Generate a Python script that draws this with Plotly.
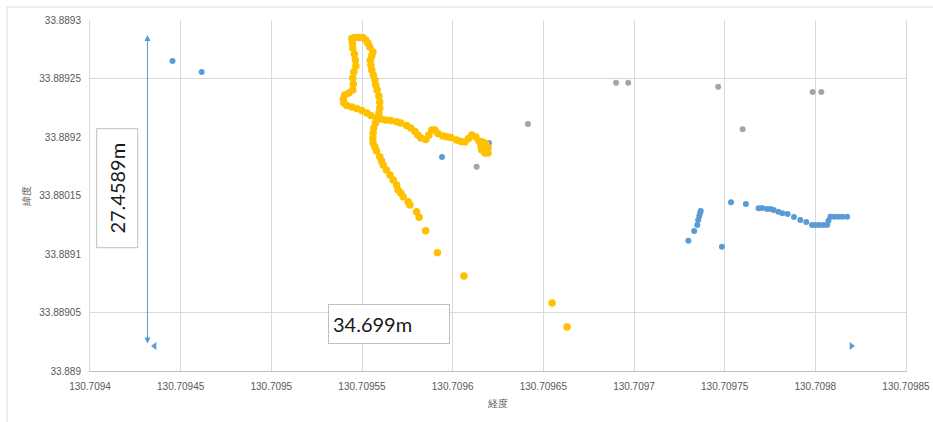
import plotly.graph_objects as go

# ---- data (longitude / latitude) ----
blue_lon = [130.7094455, 130.7094616, 130.7095941, 130.7096200,
            130.7097300, 130.7097332, 130.7097349, 130.7097354, 130.7097360, 130.7097365, 130.7097368,
            130.7097485, 130.7097535, 130.7097617, 130.7097687, 130.7097707, 130.7097733, 130.7097752,
            130.7097770, 130.7097796, 130.7097818, 130.7097847, 130.7097882, 130.7097917, 130.7097950,
            130.7097982, 130.7098000, 130.7098022, 130.7098044, 130.7098065, 130.7098072, 130.7098083,
            130.7098105, 130.7098127, 130.7098149, 130.7098175]
blue_lat = [33.8892650, 33.8892556, 33.8891829, 33.8891949,
            33.8891114, 33.8891197, 33.8891248, 33.8891291, 33.8891325, 33.8891350, 33.8891368,
            33.8891062, 33.8891442, 33.8891427, 33.8891391, 33.8891393, 33.8891385, 33.8891385,
            33.8891376, 33.8891362, 33.8891348, 33.8891342, 33.8891316, 33.8891291, 33.8891273,
            33.8891248, 33.8891248, 33.8891248, 33.8891248, 33.8891248, 33.8891285, 33.8891319,
            33.8891319, 33.8891319, 33.8891319, 33.8891319]

yellow_lon = [130.7096631, 130.7096548, 130.7096062, 130.7095916, 130.7095851, 130.7095815, 130.7095801,
              130.7095764, 130.7095755, 130.7095727, 130.7095714, 130.7095699, 130.7095691, 130.7095672,
              130.7095654, 130.7095635, 130.7095617, 130.7095608, 130.7095598, 130.7095580, 130.7095571,
              130.7095561, 130.7095560, 130.7095561, 130.7095565, 130.7095574, 130.7095579, 130.7095593,
              130.7095598, 130.7095598, 130.7095593, 130.7095583, 130.7095576, 130.7095571, 130.7095562,
              130.7095554, 130.7095549, 130.7095546, 130.7095554, 130.7095560, 130.7095543, 130.7095532,
              130.7095521, 130.7095504, 130.7095482, 130.7095460, 130.7095444, 130.7095447, 130.7095449,
              130.7095458, 130.7095463, 130.7095466, 130.7095455, 130.7095449, 130.7095452, 130.7095449,
              130.7095427, 130.7095405, 130.7095397, 130.7095400, 130.7095416, 130.7095444, 130.7095471,
              130.7095499, 130.7095527, 130.7095549, 130.7095604, 130.7095631, 130.7095659, 130.7095691,
              130.7095714, 130.7095746, 130.7095769, 130.7095792, 130.7095808, 130.7095825, 130.7095852,
              130.7095869, 130.7095885, 130.7095902, 130.7095919, 130.7095946, 130.7095968, 130.7095990,
              130.7096022, 130.7096046, 130.7096068, 130.7096087, 130.7096106, 130.7096128, 130.7096145,
              130.7096156, 130.7096161, 130.7096178, 130.7096195, 130.7096195, 130.7096184, 130.7096167,
              130.7096175]
yellow_lat = [33.8890376, 33.8890581, 33.8890812, 33.8891011, 33.8891199, 33.8891314, 33.8891362,
              33.8891419, 33.8891447, 33.8891490, 33.8891521, 33.8891547, 33.8891590, 33.8891632,
              33.8891675, 33.8891718, 33.8891761, 33.8891795, 33.8891832, 33.8891880, 33.8891915,
              33.8891949, 33.8891991, 33.8892034, 33.8892077, 33.8892120, 33.8892158, 33.8892205,
              33.8892248, 33.8892299, 33.8892350, 33.8892402, 33.8892444, 33.8892487, 33.8892530,
              33.8892573, 33.8892615, 33.8892658, 33.8892692, 33.8892726, 33.8892769, 33.8892803,
              33.8892829, 33.8892850, 33.8892850, 33.8892850, 33.8892842, 33.8892803, 33.8892761,
              33.8892709, 33.8892658, 33.8892607, 33.8892556, 33.8892504, 33.8892453, 33.8892402,
              33.8892376, 33.8892359, 33.8892325, 33.8892291, 33.8892269, 33.8892256, 33.8892244,
              33.8892226, 33.8892205, 33.8892184, 33.8892154, 33.8892145, 33.8892141, 33.8892131,
              33.8892120, 33.8892098, 33.8892077, 33.8892047, 33.8892017, 33.8891991, 33.8891979,
              33.8892017, 33.8892060, 33.8892060, 33.8892030, 33.8892009, 33.8892003, 33.8891996,
              33.8891974, 33.8891962, 33.8891957, 33.8891987, 33.8892017, 33.8892000, 33.8891966,
              33.8891923, 33.8891889, 33.8891863, 33.8891863, 33.8891906, 33.8891940, 33.8891957,
              33.8891889]

gray_lon = [130.7096901, 130.7096968, 130.7097464, 130.7097599, 130.7097985, 130.7098033,
            130.7096132, 130.7096415]
gray_lat = [33.8892464, 33.8892464, 33.8892430, 33.8892066, 33.8892385, 33.8892385,
            33.8891746, 33.8892111]

# measurement markers
vert_arrow_lon = 130.7094317
vert_arrow_lat = [33.8890222, 33.8892872]
horiz_heads_lon = [130.7094356, 130.7098199]
horiz_heads_lat = [33.8890214, 33.8890214]
label_vert = "27.4589m"
label_vert_pos = (130.7094150, 33.8891564)
label_horiz = "34.699m"
label_horiz_pos = (130.7095650, 33.8890402)

x_ticks = [130.7094, 130.70945, 130.7095, 130.70955, 130.7096, 130.70965,
           130.7097, 130.70975, 130.7098, 130.70985]
x_ticktext = ["130.7094", "130.70945", "130.7095", "130.70955", "130.7096", "130.70965",
              "130.7097", "130.70975", "130.7098", "130.70985"]
y_ticks = [33.889, 33.88905, 33.8891, 33.88915, 33.8892, 33.88925, 33.8893]
y_ticktext = ["33.889", "33.88905", "33.8891", "33.88015", "33.8892", "33.88925", "33.8893"]
y_grid_shown = [33.88905, 33.88925]

x_title = "経度"
y_title = "緯度"

BLUE = "#5B9BD5"
YELLOW = "#FFC000"
GRAY = "#A5A5A5"
GRID = "#D9D9D9"
TXT = "#595959"

fig = go.Figure()

fig.add_trace(go.Scatter(x=blue_lon, y=blue_lat, mode="markers",
                         marker=dict(color=BLUE, size=6), showlegend=False, hoverinfo="x+y"))
fig.add_trace(go.Scatter(x=yellow_lon, y=yellow_lat, mode="markers",
                         marker=dict(color=YELLOW, size=7.5), showlegend=False, hoverinfo="x+y"))
fig.add_trace(go.Scatter(x=gray_lon, y=gray_lat, mode="markers",
                         marker=dict(color=GRAY, size=6), showlegend=False, hoverinfo="x+y"))
fig.add_trace(go.Scatter(x=horiz_heads_lon, y=horiz_heads_lat, mode="markers",
                         marker=dict(color=BLUE, size=7, symbol=["triangle-left", "triangle-right"]),
                         showlegend=False, hoverinfo="skip"))

# y gridlines only where visible in the reference
for gy in y_grid_shown:
    fig.add_shape(type="line", xref="paper", x0=0, x1=1, yref="y", y0=gy, y1=gy,
                  line=dict(color=GRID, width=1), layer="below")

# chart-area border (top and left edges visible in the reference)
fig.add_shape(type="line", xref="paper", yref="paper", x0=-0.1017, x1=1.04, y0=1.037, y1=1.037,
              line=dict(color=GRID, width=1))
fig.add_shape(type="line", xref="paper", yref="paper", x0=-0.1017, x1=-0.1017, y0=1.037, y1=-0.16,
              line=dict(color=GRID, width=1))

# vertical double arrow
fig.add_annotation(x=vert_arrow_lon, y=vert_arrow_lat[1], ax=vert_arrow_lon, ay=vert_arrow_lat[0],
                   xref="x", yref="y", axref="x", ayref="y", text="", showarrow=True,
                   arrowhead=2, arrowsize=1.2, arrowwidth=1, arrowcolor=BLUE, arrowside="end+start")

fig.add_annotation(x=label_vert_pos[0], y=label_vert_pos[1], xref="x", yref="y", text=label_vert,
                   showarrow=False, textangle=-90,
                   font=dict(family="Lato, Open Sans, sans-serif", size=20, color="#1a1a1a"),
                   bgcolor="white", bordercolor="#BFBFBF", borderwidth=1, borderpad=4,
                   width=110, height=32)
fig.add_annotation(x=label_horiz_pos[0], y=label_horiz_pos[1], xref="x", yref="y", text=label_horiz,
                   showarrow=False, font=dict(family="Lato, Open Sans, sans-serif", size=20, color="#1a1a1a"),
                   bgcolor="white", bordercolor="#BFBFBF", borderwidth=1, borderpad=4,
                   width=112, height=30, align="left")

fig.update_layout(
    width=933, height=422,
    margin=dict(l=90, r=27, t=20, b=51, autoexpand=False),
    paper_bgcolor="white", plot_bgcolor="white",
    font=dict(family="Liberation Sans, Arial, sans-serif", size=10, color=TXT),
    xaxis=dict(range=[130.7094, 130.70985], tickvals=x_ticks, ticktext=x_ticktext,
               showgrid=True, gridcolor=GRID, gridwidth=1, zeroline=False,
               showline=True, linecolor="#BFBFBF", mirror=False,
               ticks="outside", ticklen=6, tickcolor="rgba(0,0,0,0)",
               title=dict(text=x_title, font=dict(size=10, color=TXT), standoff=8),
               automargin=False, fixedrange=True),
    yaxis=dict(range=[33.889, 33.8893], tickvals=y_ticks, ticktext=y_ticktext,
               showgrid=False, zeroline=False,
               showline=True, linecolor=GRID, mirror=True,
               ticks="outside", ticklen=6, tickcolor="rgba(0,0,0,0)",
               title=dict(text=y_title, font=dict(size=10, color=TXT), standoff=6),
               automargin=False, fixedrange=True),
)

fig.write_html("out.html", config={"displayModeBar": False},
               post_script="document.body.style.margin='0';document.body.style.overflow='hidden';")
